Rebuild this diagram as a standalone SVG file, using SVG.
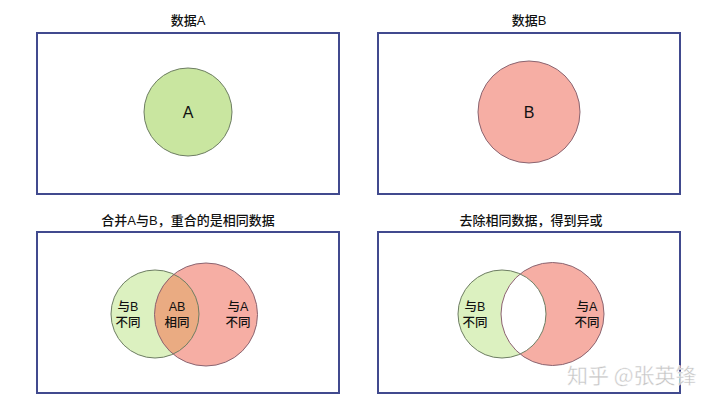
<svg xmlns="http://www.w3.org/2000/svg" width="720" height="405" viewBox="0 0 720 405">
<style>
.panel{fill:#ffffff;stroke:#414a8e;stroke-width:2}
.title{font-family:"Liberation Sans","Noto Sans CJK SC",sans-serif;font-size:13px;fill:#111;text-anchor:middle;font-weight:500}
.lbl{font-family:"Liberation Sans","Noto Sans CJK SC",sans-serif;font-size:12.5px;fill:#111;text-anchor:middle;font-weight:500}
.big{font-family:"Liberation Sans","Noto Sans CJK SC",sans-serif;font-size:16px;fill:#111;text-anchor:middle}
.g{fill:#c9e6a0}
.gl{fill:#dcf1c0}
.r{fill:#f6aea4}
.go{fill:none;stroke:#6d7d62;stroke-width:1}
.ro{fill:none;stroke:#8a6470;stroke-width:1}
.wm{font-family:"Noto Sans CJK SC",sans-serif;font-size:21px;fill:#c4c4c4;stroke:#ffffff;stroke-width:0.4}
</style>
<defs>
<clipPath id="clipG1"><circle cx="155" cy="314" r="44"/></clipPath>
<clipPath id="clipG2"><circle cx="502" cy="314" r="44"/></clipPath>
</defs>
<rect width="720" height="405" fill="#ffffff"/>

<g id="panelA">
<text class="title" x="188" y="25">数据A</text>
<rect class="panel" x="37" y="33" width="302" height="161"/>
<circle class="g" cx="188" cy="112" r="44"/>
<circle class="go" cx="188" cy="112" r="44"/>
<text class="big" x="188" y="118">A</text>
</g>

<g id="panelB">
<text class="title" x="529" y="25">数据B</text>
<rect class="panel" x="378" y="33" width="302" height="161"/>
<circle class="r" cx="529" cy="112" r="51"/>
<circle class="ro" cx="529" cy="112" r="51"/>
<text class="big" x="529" y="118">B</text>
</g>

<g id="panelUnion">
<text class="title" x="188" y="225">合并A与B，重合的是相同数据</text>
<rect class="panel" x="37" y="232" width="302" height="161"/>
<circle class="gl" cx="155" cy="314" r="44"/>
<circle class="r" cx="206" cy="314.5" r="51.5"/>
<circle fill="#eaab82" cx="206" cy="314.5" r="51.5" clip-path="url(#clipG1)"/>
<circle class="go" cx="155" cy="314" r="44"/>
<circle class="ro" cx="206" cy="314.5" r="51.5"/>
<text class="lbl" x="128" y="311">与B</text>
<text class="lbl" x="128" y="327">不同</text>
<text class="lbl" x="177" y="311">AB</text>
<text class="lbl" x="177" y="327">相同</text>
<text class="lbl" x="238" y="311">与A</text>
<text class="lbl" x="238" y="327">不同</text>
</g>

<g id="panelXor">
<text class="title" x="531" y="225">去除相同数据，得到异或</text>
<rect class="panel" x="378" y="232" width="302" height="161"/>
<circle class="gl" cx="502" cy="314" r="44"/>
<circle class="r" cx="552.5" cy="314" r="51.5"/>
<circle fill="#ffffff" cx="552.5" cy="314" r="51.5" clip-path="url(#clipG2)"/>
<circle class="go" cx="502" cy="314" r="44"/>
<circle class="ro" cx="552.5" cy="314" r="51.5"/>
<text class="lbl" x="475" y="311">与B</text>
<text class="lbl" x="475" y="327">不同</text>
<text class="lbl" x="587" y="311">与A</text>
<text class="lbl" x="587" y="327">不同</text>
</g>

<text class="wm" x="567" y="383">知乎 @张英锋</text>
</svg>
